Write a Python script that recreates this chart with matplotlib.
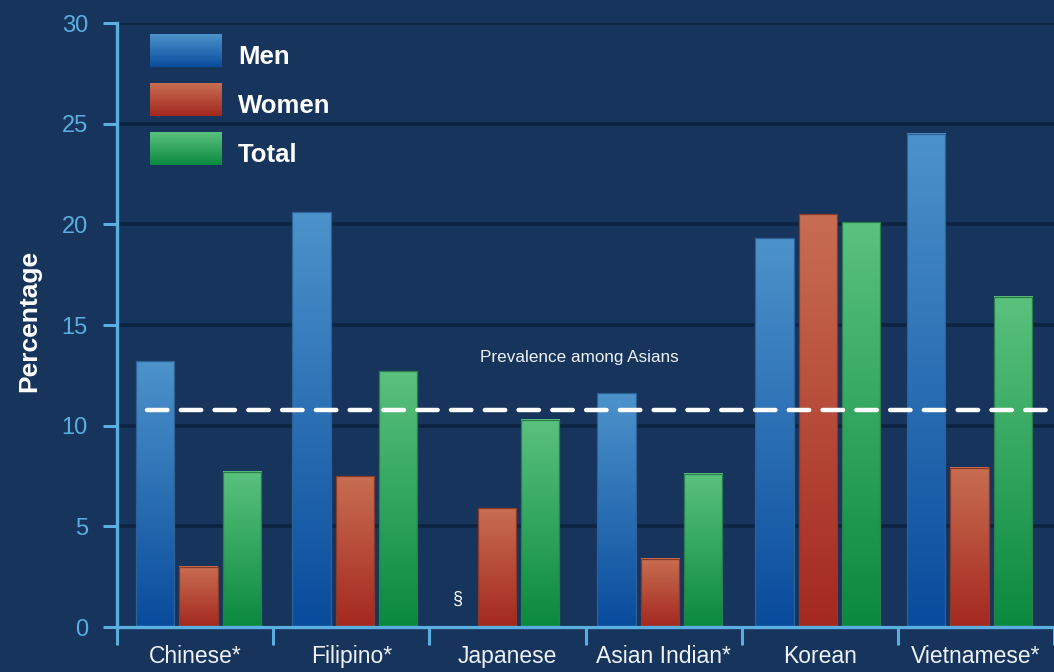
import numpy as np
import matplotlib.pyplot as plt
from matplotlib.colors import to_rgb

groups = ["Chinese*", "Filipino*", "Japanese", "Asian Indian*", "Korean", "Vietnamese*"]
men = [13.2, 20.6, np.nan, 11.6, 19.3, 24.5]
women = [3.0, 7.5, 5.9, 3.4, 20.5, 7.9]
total = [7.7, 12.7, 10.3, 7.6, 20.1, 16.4]
asian_prevalence = 10.8

series = [
    ("Men", men, "#4d93cb", "#094b9c", "#2d6296"),
    ("Women", women, "#c86e52", "#a4281f", "#8a3a28"),
    ("Total", total, "#5ac27e", "#0a893e", "#2c7d4c"),
]

# the bar clusters in the original are not exactly centred on their slots
group_shift = [0.022, 0.022, -0.067, -0.025, -0.012, -0.041]

bg = "#17345d"
axis_blue = "#5aaee0"
plt.rcParams["font.family"] = ["Liberation Sans", "DejaVu Sans"]


def gradient(top, bottom, n=256):
    t = np.linspace(0, 1, n)[:, None, None]
    a = np.array(to_rgb(top))[None, None, :]
    b = np.array(to_rgb(bottom))[None, None, :]
    return a * (1 - t) + b * t


fig = plt.figure(figsize=(10.54, 6.72), dpi=100, facecolor=bg)
ax = fig.add_axes([117 / 1054, 45 / 672, 937 / 1054, 604 / 672], facecolor=bg)

x = np.arange(len(groups))
centers = x + np.array(group_shift)
width = 0.245
offsets = [-0.277, 0.0, 0.277]

for (name, vals, top, bottom, edge), off in zip(series, offsets):
    for xc, v in zip(centers, vals):
        if np.isnan(v):
            continue
        l = xc + off - width / 2
        ax.imshow(gradient(top, bottom), extent=(l, l + width, 0, v),
                  origin="upper", aspect="auto", zorder=3)
        ax.bar(xc + off, v, width, facecolor="none", edgecolor=edge,
               linewidth=0.9, zorder=4)

# no data marker for Japanese men
ax.text(centers[2] + offsets[0] + 0.025, 1.4, "§", color="white", fontsize=13,
        ha="center", va="center", zorder=5)

# reference line
ax.axhline(asian_prevalence, xmin=0.032, xmax=1, color="white", lw=3.2,
           dashes=(4.6, 3.0), dash_capstyle="round", zorder=6)
ax.text(2.46, 13.4, "Prevalence among Asians", color="#eef2f7", fontsize=12.3,
        ha="center", va="center", zorder=6)

# legend drawn by hand
for i, (name, vals, top, bottom, edge) in enumerate(series):
    y1 = 0.980 - i * 0.081
    y0 = y1 - 0.053
    ax.imshow(gradient(top, bottom), extent=(0.0352, 0.112, y0, y1),
              transform=ax.transAxes, origin="upper", aspect="auto",
              zorder=6, clip_on=False)
    ax.text(0.129, (y0 + y1) / 2 - 0.01, name, transform=ax.transAxes,
            color="white", fontsize=18.5, fontweight="bold", va="center",
            ha="left")

ax.set_xlim(-0.5, -0.5 + 937 / 157.6)
ax.set_ylim(0, 30)
ax.set_yticks(range(0, 31, 5))
ax.grid(axis="y", color="#0c2442", lw=2.6, zorder=1)

ax.set_xticks(np.arange(len(groups) + 1) - 0.5)
ax.set_xticklabels([])
ax.set_xticks(x, minor=True)
ax.set_xticklabels(groups, minor=True)
ax.tick_params(axis="x", which="major", length=13, width=2.2,
               color=axis_blue, direction="out")
ax.tick_params(axis="x", which="minor", length=0, pad=13, labelsize=16.5,
               labelcolor="#eef2f7")
ax.tick_params(axis="y", length=10, width=2.2, color=axis_blue, pad=11,
               labelsize=17, labelcolor=axis_blue)

for s in ["top", "right"]:
    ax.spines[s].set_visible(False)
for s in ["left", "bottom"]:
    ax.spines[s].set_color(axis_blue)
    ax.spines[s].set_linewidth(2.4)
    ax.spines[s].set_zorder(7)

fig.text(29 / 1054, 0.522, "Percentage", rotation=90, color="white",
         fontsize=19, fontweight="bold", ha="center", va="center")

fig.savefig("out.png", dpi=100, facecolor=bg)
